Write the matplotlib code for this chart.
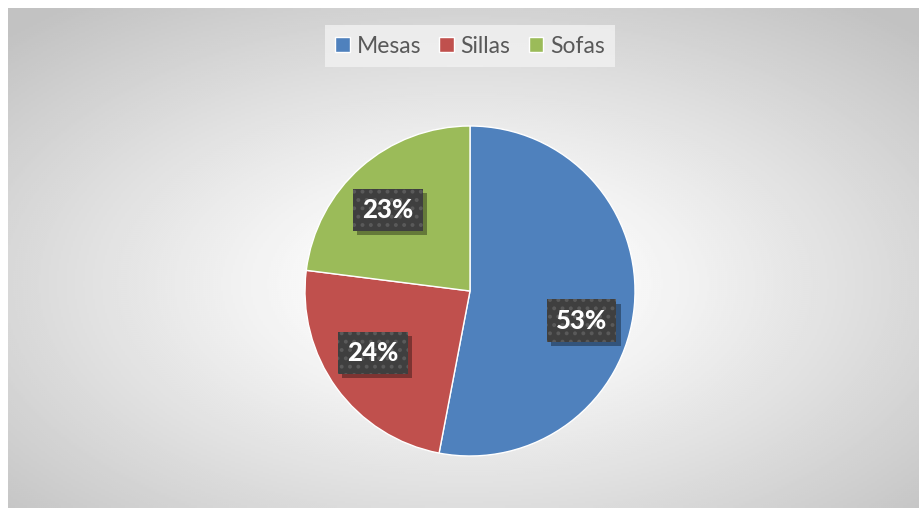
import numpy as np
import matplotlib
matplotlib.use("Agg")
import matplotlib.pyplot as plt
import matplotlib.patheffects as pe

categories = ["Mesas", "Sillas", "Sofas"]
values = [53, 24, 23]
colors = ["#4F81BD", "#C0504D", "#9BBB59"]

W, H = 920, 508
fig = plt.figure(figsize=(W / 100, H / 100), dpi=100)
fig.patch.set_facecolor("white")

# radial grey background of the chart area
bg = fig.add_axes([8 / W, 0, 1 - 8 / W, 1 - 8 / H])
bg.set_axis_off()
ny, nx = 250, 456
yy, xx = np.mgrid[0:ny, 0:nx]
dx = (xx - nx * 0.50) / (nx / 2)
dy = (yy - ny * 0.55) / (ny / 2)
r = np.sqrt(dx ** 2 + dy ** 2) / np.sqrt(2)
v = 1 - 0.24 * np.clip((r - 0.12) / 0.88, 0, 1) ** 1.1
bg.imshow(v, cmap="gray", vmin=0, vmax=1, aspect="auto",
          extent=[0, 1, 0, 1], interpolation="bilinear")


class BoxShadow(pe.SimplePatchShadow):
    # shadow without the dot pattern
    def draw_path(self, renderer, gc, tpath, affine, rgbFace):
        g = renderer.new_gc()
        g.copy_properties(gc)
        g.set_hatch(None)
        super().draw_path(renderer, g, tpath, affine, rgbFace)
        g.restore()


# pie axes
cx, cy, rad = 470, 291, 165
ax = fig.add_axes([(cx - rad) / W, (H - cy - rad) / H, 2 * rad / W, 2 * rad / H])
ax.set_axis_off()
wedges, texts, autotexts = ax.pie(
    values, colors=colors, startangle=90, counterclock=False,
    autopct="%1.0f%%", pctdistance=0.70,
    wedgeprops=dict(edgecolor="white", linewidth=1.0),
    textprops=dict(color="white", fontsize=18.5, fontweight="black",
                   family=["Lato", "DejaVu Sans"]))
ax.set_xlim(-1, 1)
ax.set_ylim(-1, 1)

# Excel "best fit" placement shifts the labels a little
shifts = [-9.5, -3.5, 4.0]
for t, s in zip(autotexts, shifts):
    x0, y0 = t.get_position()
    ang = np.arctan2(y0, x0) + np.deg2rad(s)
    d = np.hypot(x0, y0)
    t.set_position((d * np.cos(ang), d * np.sin(ang)))

plt.rcParams["hatch.linewidth"] = 1.6
for t in autotexts:
    t.set_bbox(dict(boxstyle="square,pad=0.36", facecolor="#3f3f3f",
                    edgecolor="#5a5a5a", linewidth=0, hatch=".."))
    t.get_bbox_patch().set_path_effects([
        BoxShadow(offset=(3, -3), shadow_rgbFace="black", alpha=0.35),
        pe.Normal()])

leg = fig.legend(wedges, categories, loc="center", ncol=3,
                 bbox_to_anchor=(470 / W, 1 - 46 / H),
                 frameon=True, fancybox=False, handlelength=0.62,
                 handleheight=0.62, handletextpad=0.3, columnspacing=0.8,
                 borderpad=0.45, borderaxespad=0,
                 prop=dict(family=["Lato", "DejaVu Sans"], size=16.5))
leg.get_frame().set_facecolor("#f2f2f2")
leg.get_frame().set_edgecolor("none")
for txt in leg.get_texts():
    txt.set_color("#595959")

fig.savefig("out.png", dpi=100)
